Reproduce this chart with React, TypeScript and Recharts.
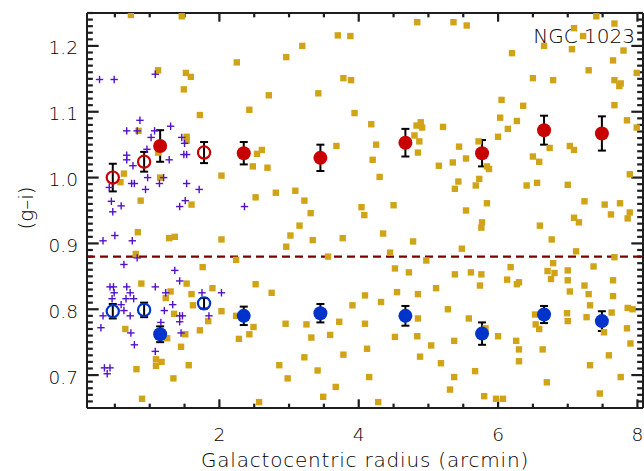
import React from 'react';
import { ScatterChart, Scatter, XAxis, YAxis, ErrorBar, ReferenceLine, Customized } from 'recharts';

// ---------- axes / tick labels ----------
const xDomain = [0.1, 8.08];
const yDomain = [0.65, 1.25];
const xMajorTicks = [2, 4, 6, 8];
const yMajorTicks = [0.7, 0.8, 0.9, 1.0, 1.1, 1.2];
const xTicks: number[] = [];
for (let i = 1; i <= 16; i++) xTicks.push(i * 0.5);
const yTicks: number[] = [];
for (let i = 66; i <= 125; i++) yTicks.push(i / 100);

// ---------- binned colour profiles ----------
const outerRadius = [1.15, 2.35, 3.45, 4.67, 5.77, 6.66, 7.49];
const redOuterColour = [1.048, 1.037, 1.030, 1.053, 1.037, 1.072, 1.067];
const redOuterErr = [0.024, 0.017, 0.020, 0.021, 0.020, 0.022, 0.026];
const blueOuterColour = [0.762, 0.790, 0.794, 0.790, 0.763, 0.792, 0.782];
const blueOuterErr = [0.012, 0.014, 0.014, 0.015, 0.017, 0.013, 0.015];

const innerRadius = [0.47, 0.92, 1.78];
const redInnerColour = [1.0, 1.024, 1.038];
const redInnerErr = [0.021, 0.015, 0.016];
const blueInnerColour = [0.797, 0.799, 0.809];
const blueInnerErr = [0.011, 0.011, 0.008];

const colourDivide = 0.88;

// ---------- individual GCs (purple crosses) ----------
const crossX = [0.28, 0.49, 1.08, 0.86, 0.67, 0.82, 1.07, 1.30, 1.02, 1.46, 0.96, 0.67, 1.49, 1.53, 1.50, 0.67, 0.76, 1.28, 0.97, 1.20, 1.14, 0.42, 0.74, 0.78, 1.53, 0.94, 1.71, 0.45, 0.59, 1.51, 1.43, 0.47, 2.36, 0.50, 0.33, 0.75, 0.82, 0.63, 1.36, 1.43, 0.43, 0.48, 0.67, 1.08, 0.49, 0.72, 1.23, 1.75, 2.03, 0.46, 0.66, 0.77, 0.59, 1.33, 0.63, 1.21, 0.33, 0.72, 1.43, 1.47, 1.85, 1.43, 1.16, 0.30, 0.73, 1.45, 0.78, 1.08, 0.35, 0.43, 0.39];
const crossY = [1.149, 1.149, 1.157, 1.087, 1.071, 1.071, 1.071, 1.078, 1.061, 1.061, 1.043, 1.034, 1.035, 1.035, 1.052, 1.027, 1.018, 1.027, 1.000, 1.000, 0.991, 0.985, 0.991, 0.991, 0.991, 0.982, 0.982, 0.964, 0.957, 0.965, 0.956, 0.948, 0.956, 0.912, 0.904, 0.904, 0.878, 0.868, 0.859, 0.843, 0.834, 0.834, 0.834, 0.834, 0.825, 0.825, 0.825, 0.825, 0.825, 0.816, 0.816, 0.816, 0.807, 0.807, 0.798, 0.798, 0.790, 0.790, 0.790, 0.790, 0.790, 0.781, 0.780, 0.772, 0.764, 0.764, 0.746, 0.736, 0.711, 0.711, 0.702];

// ---------- individual GCs (gold squares) ----------
const squareX = [0.73, 1.46, 3.70, 3.88, 4.84, 5.36, 5.55, 7.41, 7.67, 7.09, 7.22, 6.20, 6.66, 7.06, 7.80, 7.65, 7.30, 6.50, 6.79, 7.67, 7.76, 7.74, 7.99, 6.05, 6.36, 7.67, 7.85,
  1.12, 1.52, 1.59, 1.49, 1.72, 1.53, 1.53, 0.84, 1.12, 0.63, 0.58, 1.15, 2.03, 2.48, 2.54, 0.87, 1.60, 2.52, 0.83, 1.28, 1.36, 2.03, 0.80, 2.24, 1.76, 0.88, 1.53, 1.90, 1.30, 1.23, 1.60, 1.62, 2.03, 2.52, 2.24, 1.35, 1.84, 2.49, 2.43, 2.28, 0.65, 1.25, 1.51, 1.72, 1.45, 1.09, 1.09, 1.17, 1.56, 0.81, 1.34, 0.89,
  2.57, 3.49, 4.28, 5.31, 5.80, 5.97, 6.07, 7.46,
  4.89, 4.83, 4.91, 5.21, 6.03, 6.27, 6.14, 7.99, 4.80, 4.87, 4.85, 6.00, 5.72, 5.44, 6.74, 7.03, 7.09, 5.15, 5.35, 5.54, 5.84, 5.87, 6.50, 6.59, 5.43, 5.38, 5.73, 5.68, 6.41, 6.56, 7.00, 7.89, 4.50, 5.54, 5.84, 7.24, 7.53, 7.75, 7.62, 7.89, 7.86, 7.09, 7.16, 5.77, 5.76, 6.60, 4.35, 4.78, 5.48, 6.77, 7.12, 4.45, 4.97, 7.67, 4.52, 4.72, 5.38, 5.61, 5.76, 6.18, 6.13, 6.30, 6.27, 5.74, 5.11, 6.79, 6.71, 6.81, 6.76, 7.00, 7.00, 7.37, 7.65, 7.24, 7.03, 7.30, 4.55, 4.85, 4.32, 5.28, 7.65, 7.32, 7.86, 7.93, 4.85, 5.58, 6.53, 6.99, 7.00, 7.27, 7.63, 6.54, 6.59, 7.52, 7.85, 5.82, 4.52, 4.84, 5.37, 6.00, 6.26, 5.04, 7.90, 6.30, 6.64,
  2.96, 3.19, 3.42, 3.78, 3.89, 3.94, 4.18, 2.71, 2.61, 2.69, 2.81, 3.09, 3.22, 3.31, 3.68, 4.25, 4.30, 4.20, 4.08, 4.04, 3.77, 3.56, 3.34, 3.15, 3.02, 2.96, 2.75, 2.95, 3.25, 3.32, 3.59, 3.72, 3.91, 4.09, 4.09, 3.78, 4.12, 4.15, 3.41, 2.98, 2.86, 3.22, 3.67, 5.18, 5.37, 5.67, 6.30, 6.70, 7.32, 7.59, 7.76, 4.88, 2.25, 2.43];
const squareY = [1.247, 1.245, 1.216, 1.215, 1.236, 1.236, 1.231, 1.245, 1.234, 1.227, 1.215, 1.189, 1.200, 1.195, 1.193, 1.178, 1.163, 1.151, 1.148, 1.148, 1.143, 1.139, 1.159, 1.118, 1.109, 1.110, 1.087,
  1.163, 1.159, 1.153, 1.134, 1.095, 1.062, 1.056, 1.071, 1.038, 1.006, 0.993, 1.000, 1.003, 1.017, 1.036, 0.965, 0.959, 0.970, 0.917, 0.908, 0.910, 0.906, 0.884, 0.875, 0.864, 0.839, 0.839, 0.832, 0.827, 0.817, 0.823, 0.806, 0.797, 0.838, 0.790, 0.793, 0.782, 0.773, 0.762, 0.755, 0.770, 0.756, 0.762, 0.768, 0.743, 0.724, 0.714, 0.720, 0.715, 0.709, 0.695, 0.664,
  0.659, 0.667, 0.659, 0.678, 0.668, 0.664, 0.664, 0.672,
  1.084, 1.079, 1.076, 1.077, 1.091, 1.086, 1.074, 1.076, 1.064, 1.055, 1.038, 1.062, 1.055, 1.047, 1.045, 1.048, 1.042, 1.018, 1.023, 1.029, 1.017, 1.013, 1.032, 1.024, 0.994, 0.983, 0.998, 0.988, 0.988, 0.992, 0.989, 1.005, 0.958, 0.950, 0.961, 0.964, 0.959, 0.961, 0.944, 0.947, 0.938, 0.939, 0.932, 0.932, 0.924, 0.927, 0.915, 0.903, 0.892, 0.906, 0.888, 0.886, 0.874, 0.879, 0.862, 0.856, 0.853, 0.856, 0.853, 0.864, 0.845, 0.841, 0.838, 0.836, 0.832, 0.870, 0.858, 0.855, 0.846, 0.859, 0.844, 0.865, 0.844, 0.836, 0.827, 0.823, 0.826, 0.823, 0.811, 0.800, 0.820, 0.806, 0.802, 0.800, 0.786, 0.786, 0.792, 0.794, 0.782, 0.788, 0.795, 0.777, 0.770, 0.765, 0.771, 0.771, 0.758, 0.759, 0.752, 0.759, 0.752, 0.745, 0.748, 0.739, 0.739,
  1.183, 1.200, 1.128, 1.151, 1.148, 1.098, 1.081, 1.125, 1.042, 1.015, 0.977, 0.980, 0.965, 0.946, 1.048, 1.050, 1.001, 1.027, 0.943, 0.955, 0.908, 0.880, 0.905, 0.927, 0.912, 0.895, 0.825, 0.778, 0.777, 0.757, 0.761, 0.781, 0.806, 0.821, 0.778, 0.731, 0.740, 0.697, 0.707, 0.695, 0.715, 0.727, 0.682, 0.718, 0.697, 0.706, 0.721, 0.689, 0.715, 0.730, 0.697, 0.728, 1.175, 1.103];

// ---------- build tables ----------
const pts = (xs: number[], ys: number[], es?: number[]) =>
  xs.map((x, i) => ({ x, y: ys[i], err: es ? es[i] : 0 }));
const squareData = pts(squareX, squareY);
const crossData = pts(crossX, crossY);
const redOuter = pts(outerRadius, redOuterColour, redOuterErr);
const blueOuter = pts(outerRadius, blueOuterColour, blueOuterErr);
const redInner = pts(innerRadius, redInnerColour, redInnerErr);
const blueInner = pts(innerRadius, blueInnerColour, blueInnerErr);

// ---------- styles ----------
const AX = '#1e1e1e';
const TXT = '#000000';
const FONT = "'DejaVu Sans', 'Liberation Sans', sans-serif";
const FW = 200;
const GOLD = '#D1A317';
const PURPLE = '#5212C8';
const RED = '#C80000';
const BLUE = '#0033CC';
const TW = 2.2;

// tick lengths as fractions of the plot extent (IDL-style ticklen)
const X_SPAN = xDomain[1] - xDomain[0];
const Y_SPAN = yDomain[1] - yDomain[0];
const xTickLen = (major: boolean) => (major ? 0.022 : 0.011) * Y_SPAN;
const yTickLen = (major: boolean) => (major ? 0.021 : 0.0105) * X_SPAN;

const isMajor = (v: number, majors: number[]) => majors.some((m) => Math.abs(m - v) < 1e-6);

const BottomLabel = (p: any) => {
  const { x, y, payload } = p;
  if (!isMajor(payload.value, xMajorTicks)) return <g />;
  return (
    <text x={x} y={y + 33} textAnchor="middle" fontSize={18.5} fontWeight={FW} fill={TXT} fontFamily={FONT}>
      {String(payload.value)}
    </text>
  );
};
const LeftLabel = (p: any) => {
  const { x, y, payload } = p;
  if (!isMajor(payload.value, yMajorTicks)) return <g />;
  return (
    <text x={x - 9} y={y + 8.5} textAnchor="end" fontSize={18.5} fontWeight={FW} fill={TXT} fontFamily={FONT}>
      {payload.value.toFixed(1)}
    </text>
  );
};

const SquareShape = (p: any) => (
  <rect x={p.cx - 3.2} y={p.cy - 3.2} width={6.4} height={6.4} fill={GOLD} />
);
const CrossShape = (p: any) => (
  <g stroke={PURPLE} strokeWidth={1.4}>
    <line x1={p.cx - 3.7} x2={p.cx + 3.7} y1={p.cy} y2={p.cy} />
    <line x1={p.cx} x2={p.cx} y1={p.cy - 3.7} y2={p.cy + 3.7} />
  </g>
);
const filled = (c: string) => (p: any) => <circle cx={p.cx} cy={p.cy} r={7} fill={c} />;
const open = (c: string) => (p: any) => (
  <circle cx={p.cx} cy={p.cy} r={6.1} fill="none" stroke={c} strokeWidth={2.2} />
);
const Nothing = () => <g />;

const Labels = () => (
  <g fontFamily={FONT} fill={TXT} fontWeight={FW}>
    <text x={365} y={467} textAnchor="middle" fontSize={20} letterSpacing={0.8}>
      Galactocentric radius (arcmin)
    </text>
    <text x={33} y={208} textAnchor="middle" fontSize={20} transform="rotate(-90, 33, 208)">
      (g–i)
    </text>
    <text x={635} y={43} textAnchor="end" fontSize={20}>
      NGC 1023
    </text>
  </g>
);

const axisLine = { stroke: AX, strokeWidth: 2 };

const tickSegments = () => {
  const segs: any[] = [];
  xTicks.forEach((v) => {
    const L = xTickLen(isMajor(v, xMajorTicks));
    segs.push([{ x: v, y: yDomain[0] }, { x: v, y: yDomain[0] + L }]);
    segs.push([{ x: v, y: yDomain[1] }, { x: v, y: yDomain[1] - L }]);
  });
  yTicks.forEach((v) => {
    const L = yTickLen(isMajor(v, yMajorTicks));
    segs.push([{ x: xDomain[0], y: v }, { x: xDomain[0] + L, y: v }]);
    segs.push([{ x: xDomain[1], y: v }, { x: xDomain[1] - L, y: v }]);
  });
  return segs;
};

export default function App() {
  const segs = tickSegments();
  return (
    <div style={{ position: 'absolute', left: 0, top: 0, width: 644, height: 471, background: '#fff' }}>
      <ScatterChart width={644} height={471} margin={{ top: 0, right: 0, bottom: 0, left: 0 }}>
        <XAxis xAxisId="b" type="number" dataKey="x" orientation="bottom" domain={xDomain} allowDataOverflow
          ticks={xTicks} interval={0} tick={<BottomLabel />} tickLine={false} tickSize={0} tickMargin={0}
          axisLine={axisLine} height={63} />
        <XAxis xAxisId="t" type="number" dataKey="x" orientation="top" domain={xDomain} allowDataOverflow
          ticks={xTicks} interval={0} tick={false} tickLine={false} tickSize={0} tickMargin={0}
          axisLine={axisLine} height={13} />
        <YAxis yAxisId="l" type="number" dataKey="y" orientation="left" domain={yDomain} allowDataOverflow
          ticks={yTicks} interval={0} tick={<LeftLabel />} tickLine={false} tickSize={0} tickMargin={0}
          axisLine={axisLine} width={87} />
        <YAxis yAxisId="r" type="number" dataKey="y" orientation="right" domain={yDomain} allowDataOverflow
          ticks={yTicks} interval={0} tick={false} tickLine={false} tickSize={0} tickMargin={0}
          axisLine={axisLine} width={1} />

        <Scatter xAxisId="t" yAxisId="r" data={[]} isAnimationActive={false} shape={Nothing} />

        {segs.map((s, i) => (
          <ReferenceLine key={'t' + i} xAxisId="b" yAxisId="l" segment={s} stroke={AX} strokeWidth={TW}
            ifOverflow="visible" strokeOpacity={1} />
        ))}

        <Scatter xAxisId="b" yAxisId="l" data={squareData} isAnimationActive={false} shape={SquareShape} />
        <Scatter xAxisId="b" yAxisId="l" data={crossData} isAnimationActive={false} shape={CrossShape} />
        <ReferenceLine xAxisId="b" yAxisId="l" y={colourDivide} stroke="#7A0000" strokeWidth={2.3} strokeDasharray="8 5" />

        <Scatter xAxisId="b" yAxisId="l" data={redOuter} isAnimationActive={false} shape={filled(RED)} />
        <Scatter xAxisId="b" yAxisId="l" data={blueOuter} isAnimationActive={false} shape={filled(BLUE)} />
        <Scatter xAxisId="b" yAxisId="l" data={redInner} isAnimationActive={false} shape={open(RED)} />
        <Scatter xAxisId="b" yAxisId="l" data={blueInner} isAnimationActive={false} shape={open(BLUE)} />

        {[redOuter, blueOuter, redInner, blueInner].map((d, i) => (
          <Scatter key={i} xAxisId="b" yAxisId="l" data={d} isAnimationActive={false} shape={Nothing}>
            <ErrorBar dataKey="err" direction="y" width={4} strokeWidth={2} stroke="#000" />
          </Scatter>
        ))}
        <Customized component={Labels} />
      </ScatterChart>
    </div>
  );
}
